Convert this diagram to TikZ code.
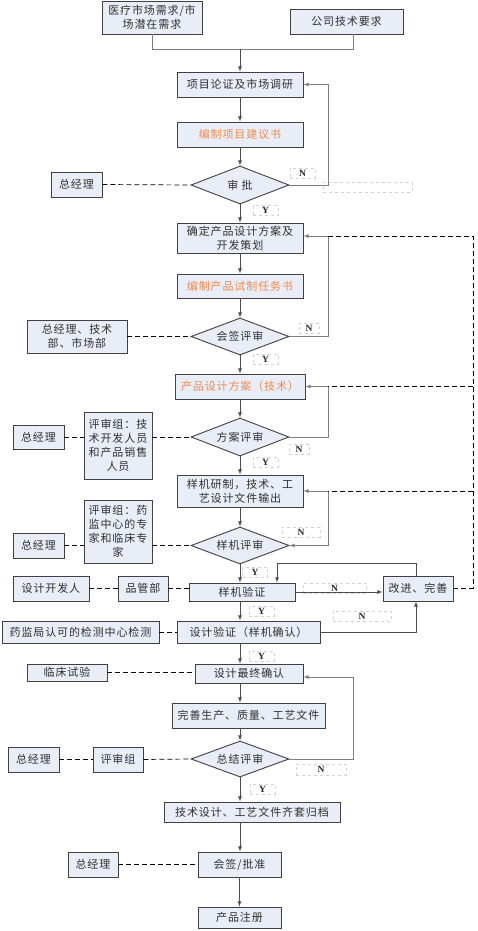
\documentclass[tikz,border=0pt]{standalone}
\usepackage{fontspec}
\usepackage{tikz}
\usetikzlibrary{shapes, arrows}
\setmainfont{Liberation Serif}
\newfontfamily\cjk[LetterSpace=8]{Noto Sans CJK SC}
\definecolor{boxfill}{HTML}{E8EDF7}
\definecolor{boxline}{HTML}{404040}
\definecolor{textcol}{HTML}{303030}
\definecolor{orangetext}{HTML}{F08C50}
\definecolor{fbline}{HTML}{808080}

\begin{document}
\begin{tikzpicture}[x=1pt, y=-1pt, >=latex,
        box/.style={draw=boxline, fill=boxfill, rectangle, line width=0.9pt, inner sep=0pt, align=center,
            text=textcol, font=\cjk\fontsize{11}{14}\selectfont, minimum width=126pt, minimum height=25pt},
        ask/.style={box, diamond, aspect=2.6, minimum width=98pt, minimum height=38pt},
        arr/.style={->, draw=black!70, line width=0.8pt},
        fb/.style={draw=fbline, line width=0.8pt},
        assoc/.style={draw=black, line width=0.7pt, dash pattern=on 5pt off 3pt},
        yn/.style={draw=black!18, dashed, inner sep=0pt, minimum height=10pt, minimum width=25pt,
            font=\bfseries\fontsize{9.5}{9.5}\selectfont, text=black!85}]
        \useasboundingbox (0,0) rectangle (477,931);

        % main column
        \node (need1) [box, minimum width=100pt, minimum height=33pt] at (152,17.5) {医疗市场需求/市\\场潜在需求};
        \node (need2) [box, minimum width=113pt] at (346.5,21.5) {公司技术要求};
        \node (demo) [box] at (240,84.5) {项目论证及市场调研};
        \node (prop) [box, text=orangetext] at (240,134.5) {编制项目建议书};
        \node (appr) [ask] at (240,185) {审 批};
        \node (plan) [box, minimum height=30pt] at (240,238) {确定产品设计方案及\\开发策划};
        \node (task) [box, minimum height=24pt, text=orangetext] at (240,286) {编制产品试制任务书};
        \node (sign) [ask, minimum height=37pt] at (240,336.5) {会签评审};
        \node (scheme) [box, minimum width=130pt, text=orangetext] at (240,386.5) {产品设计方案（技术）};
        \node (srev) [ask] at (240,437) {方案评审};
        \node (proto) [box, minimum height=32pt] at (240,491) {样机研制，技术、工\\艺设计文件输出};
        \node (prev) [ask, minimum height=37pt] at (240,545.5) {样机评审};
        \node (verify) [box, minimum width=106pt, minimum height=18pt] at (242,592) {样机验证};
        \node (dval) [box, minimum width=143pt, minimum height=22pt] at (248.5,632) {设计验证（样机确认）};
        \node (final) [box, minimum width=108pt, minimum height=19pt] at (249,673.5) {设计最终确认};
        \node (docs) [box, minimum width=153pt] at (248.5,715.5) {完善生产、质量、工艺文件};
        \node (srv) [ask, minimum height=36pt] at (240,759) {总结评审};
        \node (arch) [box, minimum width=176pt, minimum height=20pt] at (252,812) {技术设计、工艺文件齐套归档};
        \node (sign2) [box, minimum width=83pt] at (239.5,864.5) {会签/批准};
        \node (reg) [box, minimum width=83pt, minimum height=21pt] at (239.5,917.5) {产品注册};

        % side boxes
        \node (gm1) [box, minimum width=51pt] at (76.5,184.5) {总经理};
        \node (gm2) [box, minimum width=100pt, minimum height=33pt] at (77,336.5) {总经理、技术\\部、市场部};
        \node (gm3) [box, minimum width=51pt, minimum height=24pt] at (38.5,437) {总经理};
        \node (grp1) [box, minimum width=68pt, minimum height=67pt] at (118,445.5) {评审组：技\\术开发人员\\和产品销售\\人员};
        \node (gm4) [box, minimum width=51pt] at (38.5,545.5) {总经理};
        \node (grp2) [box, minimum width=68pt, minimum height=63pt] at (118,531.5) {评审组：药\\监中心的专\\家和临床专\\家};
        \node (dev) [box, minimum width=76pt] at (51,588.5) {设计开发人};
        \node (qa) [box, minimum width=50pt] at (143,588.5) {品管部};
        \node (impr) [box, minimum width=70pt] at (418,588.5) {改进、完善};
        \node (lab) [box, minimum width=157pt, minimum height=22pt] at (80.5,632) {药监局认可的检测中心检测};
        \node (clin) [box, minimum width=80pt, minimum height=17pt] at (67,672.5) {临床试验};
        \node (gm5) [box, minimum width=51pt] at (33.5,759.5) {总经理};
        \node (grp3) [box, minimum width=50pt] at (118,759.5) {评审组};
        \node (gm6) [box, minimum width=50pt] at (93,864.5) {总经理};

        % Y / N labels
        \node (n1) [yn] at (302.5,173) {N};
        \node (y1) [yn] at (265.5,210.5) {Y};
        \node (n2) [yn, minimum width=20pt] at (309,328) {N};
        \node (y2) [yn] at (265.5,359) {Y};
        \node (n3) [yn, minimum width=20pt] at (299,449) {N};
        \node (y3) [yn] at (265.5,462) {Y};
        \node (n4) [yn, minimum width=38pt] at (301,532) {N};
        \node (y4) [yn] at (255,572) {Y};
        \node (n5) [yn, minimum width=63pt] at (334.5,588) {N};
        \node (y5) [yn] at (261.5,611) {Y};
        \node (n6) [yn, minimum width=58pt] at (362,616) {N};
        \node (y6) [yn] at (261.5,656) {Y};
        \node (n7) [yn, minimum width=50pt, minimum height=11pt] at (321,769.5) {N};
        \node (y7) [yn] at (262.5,789) {Y};
        \node (blank) [yn, minimum width=89pt] at (367.5,187) {};

        % flow down the middle
        \coordinate (merge) at (240,49);
        \coordinate (axis) at (240,0);
        \draw [fb] (need1.south) |- (merge);
        \draw [fb] ([xshift=6.5pt]need2.south) |- (merge);
        \draw [arr] (merge) -- (demo.north);
        \draw [arr] (demo) -- (prop);
        \draw [arr] (prop) -- (appr);
        \draw [arr] (appr) -- (plan);
        \draw [arr] (plan) -- (task);
        \draw [arr] (task) -- (sign);
        \draw [arr] (sign) -- (scheme);
        \draw [arr] (scheme) -- (srev);
        \draw [arr] (srev) -- (proto);
        \draw [arr] (proto) -- (prev);
        \draw [arr] (prev.south) -- (verify.north -| axis);
        \draw [arr] (verify.south -| axis) -- (dval.north -| axis);
        \draw [arr] (dval.south -| axis) -- (final.north -| axis);
        \draw [arr] (final.south -| axis) -- (docs.north -| axis);
        \draw [arr] (docs.south -| axis) -- (srv.north);
        \draw [arr] (srv.south) -- (arch.north -| axis);
        \draw [arr] (arch.south -| axis) -- (sign2.north -| axis);
        \draw [arr] (sign2) -- (reg);

        % N loops
        \draw [fb, ->] (appr.east) -- ++(39,0) |- (demo.east);
        \draw [fb, ->] (sign.east) -- ++(39,0) |- ([yshift=2pt]plan.east);
        \draw [fb, ->] (srev.east) -- ++(39,0) |- (scheme.east);
        \draw [fb, <->] (prev.east) -- ++(39,0) |- (proto.east);
        \draw [fb, ->] (srv.east) -- ++(64,0) |- ([yshift=-3.5pt]final.east);
        \draw [arr] (verify.east) -- (impr.west |- verify.east);
        \draw [arr] (dval.east) -| ([xshift=-2pt]impr.south);
        \draw [arr] ([xshift=-2pt]impr.north) -- ++(0,-12) -| ([xshift=35pt]verify.north);

        % dashed return from improvement
        \draw [assoc] (impr.east) -- (473,588.5) -- (473,236) -- (328,236);
        \draw [assoc] (473,386.5) -- (328,386.5);
        \draw [assoc] (473,491) -- (328,491);

        % dashed links to the people involved
        \draw [assoc] (gm1.east) -- (appr.west);
        \draw [assoc] (gm2.east) -- (sign.west);
        \draw [assoc] (gm3.east) -- (gm3.east -| grp1.west);
        \draw [assoc] (srev.west -| grp1.east) -- (srev.west);
        \draw [assoc] (gm4.east) -- (gm4.east -| grp2.west);
        \draw [assoc] (prev.west -| grp2.east) -- (prev.west);
        \draw [assoc] (dev.east) -- (qa.west);
        \draw [assoc] (qa.east) -- (qa.east -| verify.west);
        \draw [assoc] (lab.east) -- (dval.west);
        \draw [assoc] (clin.east) -- (clin.east -| final.west);
        \draw [assoc] (gm5.east) -- (grp3.west);
        \draw [assoc] (grp3.east) -- (srv.west);
        \draw [assoc] (gm6.east) -- (sign2.west);
    \end{tikzpicture}
\end{document}
